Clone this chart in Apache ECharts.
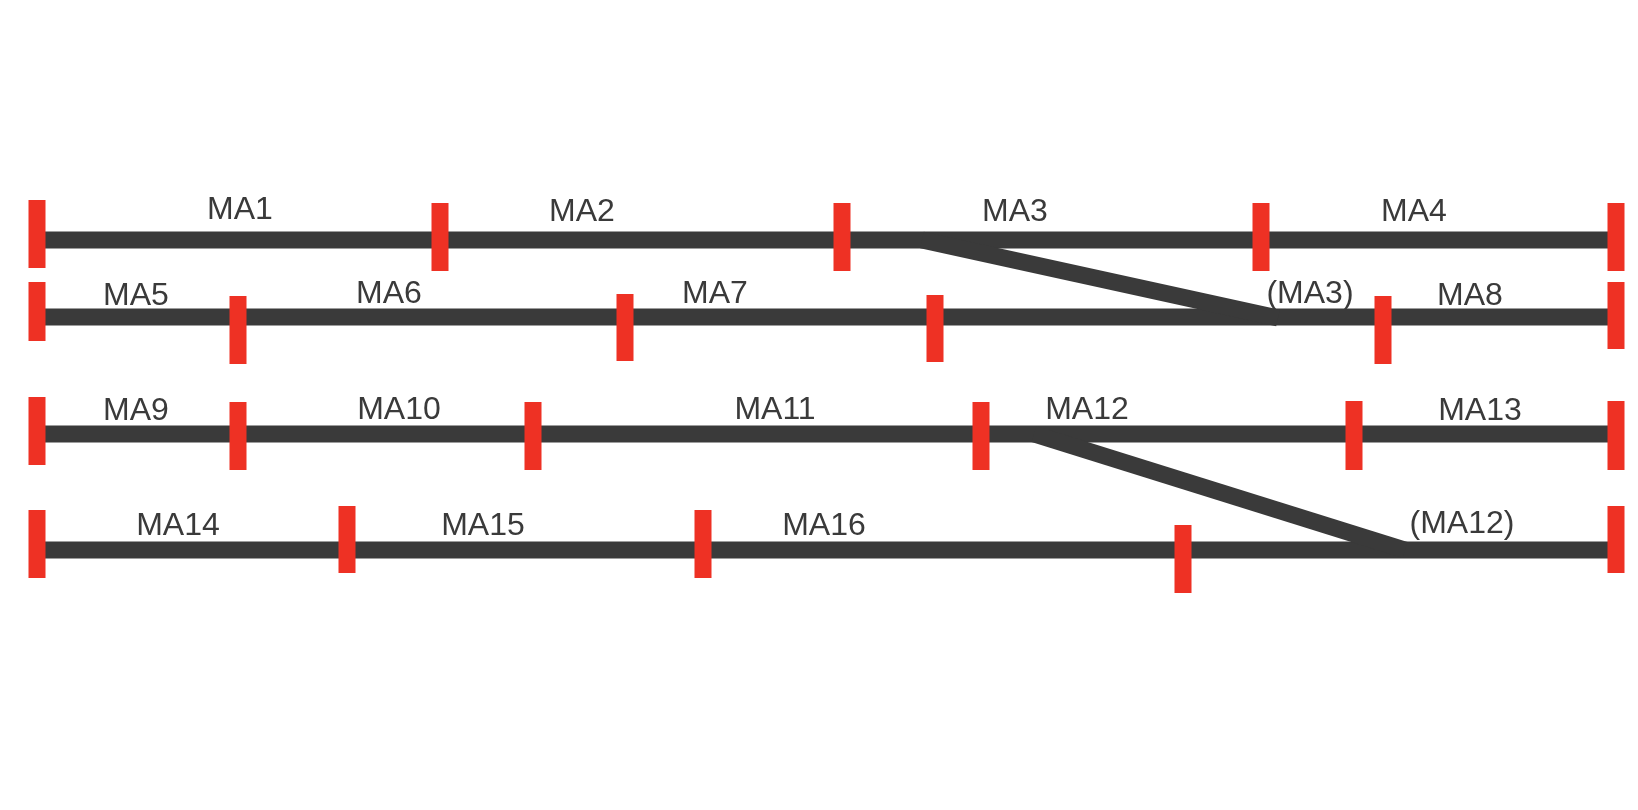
<!DOCTYPE html>
<html>
<head>
<meta charset="utf-8">
<script src="https://cdn.jsdelivr.net/npm/echarts@6/dist/echarts.min.js"></script>
<style>
  html, body { margin: 0; padding: 0; background: #fff; }
  #chart { width: 1638px; height: 810px; }
</style>
</head>
<body>
<div id="chart"></div>
<script>
// Track layout, position along the line (x) and lane height (y), in layout units.
const trackY = [240, 317, 434, 550];
const trackStart = 37, trackEnd = 1616;

// Crossovers: [fromX, fromY, toX, toY]
const crossovers = [
  [922, 240, 1278, 318],
  [1034, 434, 1405, 550],
];

// Signal markers: [x, top, bottom]
const markers = [
  [37, 200, 268], [440, 203, 271], [842, 203, 271], [1261, 203, 271], [1616, 203, 271],
  [37, 282, 341], [238, 296, 364], [625, 294, 361], [935, 295, 362], [1383, 296, 364], [1616, 282, 349],
  [37, 397, 465], [238, 402, 470], [533, 402, 470], [981, 402, 470], [1354, 401, 470], [1616, 401, 470],
  [37, 510, 578], [347, 506, 573], [703, 510, 578], [1183, 525, 593], [1616, 506, 573],
];

// Movement-authority labels: [x, y, text]
const labels = [
  [240, 210, 'MA1'], [582, 212, 'MA2'], [1015, 212, 'MA3'], [1414, 212, 'MA4'],
  [136, 296, 'MA5'], [389, 294, 'MA6'], [715, 294, 'MA7'], [1310, 294, '(MA3)'], [1470, 296, 'MA8'],
  [136, 411, 'MA9'], [399, 410, 'MA10'], [775, 410, 'MA11'], [1087, 410, 'MA12'], [1480, 411, 'MA13'],
  [178, 526, 'MA14'], [483, 526, 'MA15'], [824, 526, 'MA16'], [1462, 524, '(MA12)'],
];

const TRACK = '#3a3a3a';
const RED = '#ee3124';

// straight tracks and crossovers as one list of segments
const segments = trackY.map(y => [trackStart, y, trackEnd, y]).concat(crossovers);

const chart = echarts.init(document.getElementById('chart'));
chart.setOption({
  animation: false,
  grid: { left: 0, right: 0, top: 0, bottom: 0 },
  xAxis: { type: 'value', min: 0, max: 1638, show: false },
  yAxis: { type: 'value', min: 0, max: 810, inverse: true, show: false },
  series: [
    {
      type: 'custom', z: 2, silent: true,
      data: segments,
      renderItem: (params, api) => {
        const a = api.coord([api.value(0), api.value(1)]);
        const b = api.coord([api.value(2), api.value(3)]);
        return {
          type: 'line',
          shape: { x1: a[0], y1: a[1], x2: b[0], y2: b[1] },
          style: { stroke: TRACK, lineWidth: 17, lineCap: 'butt' },
        };
      },
    },
    {
      type: 'custom', z: 5, silent: true,
      data: markers,
      renderItem: (params, api) => {
        const top = api.coord([api.value(0), api.value(1)]);
        const bot = api.coord([api.value(0), api.value(2)]);
        const w = 17;
        return {
          type: 'rect',
          shape: { x: top[0] - w / 2, y: top[1], width: w, height: bot[1] - top[1] },
          style: { fill: RED },
        };
      },
    },
    {
      type: 'custom', z: 6, silent: true,
      data: labels,
      renderItem: (params, api) => {
        const p = api.coord([api.value(0), api.value(1)]);
        return {
          type: 'text',
          x: p[0], y: p[1],
          style: {
            text: labels[params.dataIndex][2],
            fill: '#3a3a3a', fontSize: 32,
            fontFamily: 'Liberation Sans, Arial, sans-serif',
            align: 'center', verticalAlign: 'middle',
          },
        };
      },
    },
  ],
});
</script>
</body>
</html>
